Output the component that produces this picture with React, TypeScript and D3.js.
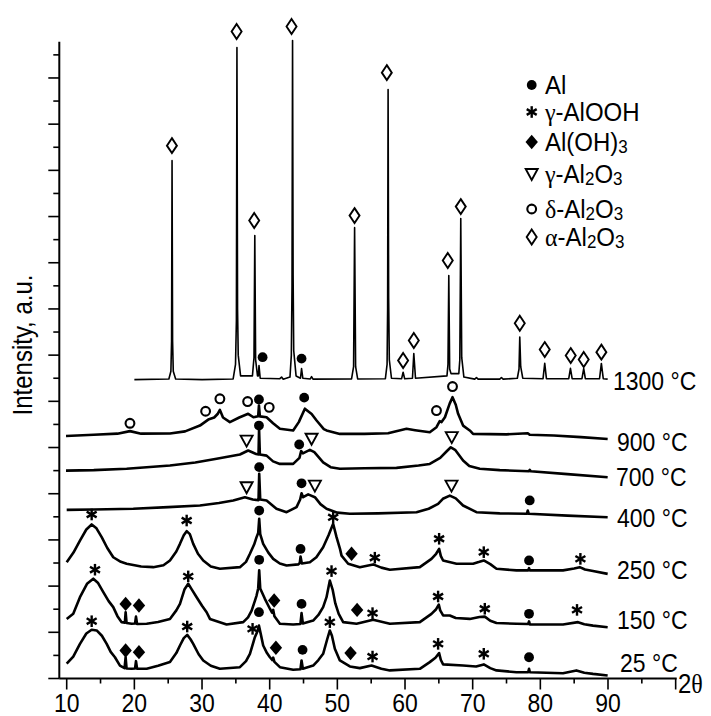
import React from 'react';
import * as d3 from 'd3';

type Pt = [number, number];

// x = 2θ (deg), y = intensity (a.u., traces already stacked)
const T1300: Pt[] = [
  [20.0, 12.94], [25.1, 12.97], [25.4, 13.3], [25.5, 14.6], [25.57, 22.42], [25.65, 14.6], [25.75, 13.3], [26.1, 12.97],
  [30.0, 12.94], [34.6, 12.97], [34.95, 13.6], [35.08, 15.5], [35.16, 27.32], [35.25, 16.0], [35.35, 14.0], [35.7, 13.1],
  [37.45, 13.1], [37.68, 13.9], [37.8, 19.18], [37.92, 13.8], [38.2, 13.1], [38.32, 13.1], [38.42, 13.55], [38.6, 13.0],
  [41.5, 12.98], [41.76, 13.05], [42.0, 12.96], [43.0, 13.05], [43.2, 14.0], [43.3, 17.0], [43.38, 27.62], [43.46, 17.5],
  [43.55, 14.2], [43.9, 13.1], [44.55, 13.0], [44.71, 13.42], [44.9, 13.0], [46.0, 12.97], [46.19, 13.07], [46.4, 12.96],
  [52.1, 12.97], [52.4, 13.5], [52.55, 19.52], [52.7, 13.5], [53.0, 12.97],
  [57.1, 12.98], [57.35, 13.6], [57.43, 16.0], [57.5, 25.5], [57.58, 16.5], [57.68, 13.8], [58.0, 13.0],
  [59.5, 12.98], [59.72, 13.26], [59.95, 12.98], [61.1, 13.0], [61.3, 14.07], [61.55, 13.0],
  [66.2, 13.1], [66.35, 13.6], [66.47, 17.45], [66.6, 13.4], [66.8, 13.2], [67.95, 13.2], [68.1, 13.8], [68.24, 19.91],
  [68.38, 13.9], [68.7, 13.05], [70.3, 12.96], [70.56, 13.03], [70.8, 12.96], [74.0, 12.96], [74.25, 13.03], [74.5, 12.96],
  [76.6, 13.0], [76.85, 13.4], [76.96, 14.78], [77.1, 13.5], [77.4, 13.0], [80.4, 12.98], [80.65, 13.65], [80.9, 12.98],
  [84.2, 12.98], [84.45, 13.43], [84.7, 12.98], [86.15, 12.98], [86.41, 13.42], [86.65, 12.98],
  [88.75, 12.98], [89.02, 13.64], [89.3, 12.98], [89.95, 12.96],
];

const T900: Pt[] = [
  [9.9, 10.5], [14, 10.55], [17.5, 10.6], [19.35, 10.71], [21, 10.6], [25.26, 10.61], [27.5, 10.7], [29.69, 10.95],
  [30.92, 11.21], [31.8, 11.3], [32.3, 11.45], [32.64, 11.63], [33.1, 11.3], [34.12, 11.1], [35.5, 11.3], [36.82, 11.46],
  [37.6, 11.31], [38.3, 11.35], [38.41, 11.82], [38.55, 11.35], [39.54, 11.31], [40.5, 11.05], [41.51, 10.81],
  [43.47, 10.74], [44.3, 11.1], [45.2, 11.68], [46.2, 11.45], [46.93, 11.17], [48.0, 10.8], [48.4, 10.74],
  [50.37, 10.59], [54, 10.59], [57.5, 10.62], [60.22, 10.81], [61.5, 10.75], [63.66, 10.66], [64.65, 10.88],
  [65.13, 11.14], [65.4, 11.1], [65.9, 11.31], [66.6, 11.9], [67.02, 12.18], [67.5, 11.85], [67.85, 11.46],
  [68.58, 10.95], [69.57, 10.74], [70.06, 10.59], [75, 10.57], [78.14, 10.62], [78.43, 10.55], [82, 10.52],
  [86, 10.45], [89.95, 10.37],
];

const T700: Pt[] = [
  [9.9, 9.0], [14, 9.02], [18.86, 9.08], [25.26, 9.22], [29, 9.35], [32.16, 9.51], [35.6, 9.7], [36.82, 9.87],
  [38.0, 9.72], [38.35, 9.7], [38.43, 10.8], [38.55, 9.7], [39.54, 9.65], [40.5, 9.4], [41.51, 9.29], [43.47, 9.29],
  [44.4, 9.55], [44.65, 9.85], [44.9, 9.75], [45.94, 9.9], [46.6, 9.8], [47.9, 9.36], [49.0, 9.15], [50.37, 9.08],
  [54, 9.1], [58.74, 9.12], [62, 9.22], [63.66, 9.29], [65.2, 9.55], [66.2, 9.85], [66.77, 10.01], [67.4, 9.9],
  [68.58, 9.44], [69.5, 9.2], [71.05, 9.08], [74, 9.02], [78.3, 8.97], [78.43, 9.03], [78.6, 8.97], [84, 8.85],
  [89.95, 8.71],
];

const T400: Pt[] = [
  [10, 7.3], [14, 7.32], [19.84, 7.35], [25, 7.42], [29.69, 7.49], [32.5, 7.6], [34.61, 7.71], [36.34, 7.85],
  [37.5, 7.75], [38.35, 7.72], [38.45, 8.86], [38.6, 7.75], [39.54, 7.71], [41.0, 7.35], [42.5, 7.2], [43.97, 7.42],
  [44.5, 7.75], [44.71, 8.02], [44.95, 7.85], [45.69, 7.97], [46.68, 7.85], [47.5, 7.55], [48.4, 7.35], [50, 7.18],
  [51.85, 7.13], [56, 7.15], [61.7, 7.2], [63.5, 7.35], [64.89, 7.56], [65.6, 7.78], [66.62, 7.92], [67.5, 7.8],
  [68.58, 7.49], [70.56, 7.2], [74, 7.15], [78.0, 7.13], [78.14, 7.27], [78.3, 7.13], [84, 7.05], [89.95, 6.98],
];

const T250: Pt[] = [
  [10, 5.03], [11.0, 5.45], [11.96, 5.97], [12.9, 6.45], [13.69, 6.67], [14.4, 6.5], [15.17, 6.12], [16.0, 5.65],
  [16.88, 5.25], [18.0, 5.05], [18.86, 4.97], [21, 4.85], [22.79, 4.82], [24.3, 4.9], [25.26, 5.11], [26.2, 5.5],
  [26.74, 5.83], [27.3, 6.2], [27.73, 6.38], [28.2, 6.25], [28.7, 5.83], [29.4, 5.4], [30.18, 5.11], [31.3, 4.85],
  [32.64, 4.75], [35.6, 4.82], [36.5, 5.05], [37.08, 5.4], [37.7, 5.8], [38.06, 6.12], [38.3, 6.3], [38.45, 6.91],
  [38.6, 6.25], [39.04, 5.83], [39.8, 5.45], [40.52, 5.18], [41.5, 4.98], [42.5, 4.89], [44.21, 4.94], [44.45, 5.0],
  [44.56, 5.28], [44.75, 4.98], [45.94, 5.03], [46.9, 5.25], [47.9, 5.68], [48.7, 6.2], [49.38, 6.7], [49.88, 6.12],
  [50.4, 5.6], [50.62, 5.32], [51.6, 4.97], [53.32, 4.82], [55.29, 4.94], [56.5, 4.8], [57.76, 4.71], [62.19, 4.82],
  [63.91, 5.18], [64.6, 5.4], [65.04, 5.61], [65.3, 5.3], [65.63, 5.11], [67.61, 4.97], [70.06, 4.97], [71.0, 5.05],
  [71.64, 5.11], [72.6, 4.95], [73.52, 4.75], [76.47, 4.68], [78.2, 4.68], [78.33, 4.78], [78.45, 4.68],
  [83.35, 4.68], [85.0, 4.76], [85.82, 4.82], [86.6, 4.72], [87.78, 4.65], [89.95, 4.53],
];

const T150: Pt[] = [
  [10, 2.58], [10.97, 2.8], [11.96, 3.52], [13.0, 4.1], [13.93, 4.32], [14.6, 4.15], [15.41, 3.74], [16.2, 3.35],
  [16.88, 3.09], [17.5, 2.7], [18.12, 2.44], [18.6, 2.42], [18.71, 2.87], [18.85, 2.4], [19.6, 2.37], [20.1, 2.38],
  [20.24, 2.68], [20.4, 2.36], [21.82, 2.37], [23.5, 2.45], [25.26, 2.58], [26.2, 2.95], [26.74, 3.23], [27.4, 3.85],
  [27.96, 4.1], [28.5, 3.85], [29.2, 3.52], [30.0, 3.15], [30.68, 2.87], [31.17, 2.58], [33.63, 2.34], [36.09, 2.44],
  [36.8, 2.65], [37.33, 2.94], [37.8, 3.35], [38.06, 3.59], [38.3, 3.9], [38.45, 4.68], [38.6, 3.9], [39.29, 3.45],
  [40.03, 3.02], [40.35, 2.85], [40.52, 2.97], [40.7, 2.7], [41.51, 2.37], [43.47, 2.34], [44.55, 2.36],
  [44.71, 2.83], [44.9, 2.38], [46.43, 2.51], [47.2, 2.75], [47.9, 3.09], [48.4, 3.52], [48.89, 4.24], [49.3, 3.85],
  [49.7, 3.25], [50.2, 2.8], [50.86, 2.44], [52.84, 2.37], [55.29, 2.54], [57.76, 2.37], [62.19, 2.44],
  [63.91, 2.8], [64.6, 3.0], [64.99, 3.2], [65.2, 2.95], [65.63, 2.73], [66.62, 2.73], [67.5, 2.62], [69.57, 2.58],
  [71.0, 2.66], [71.79, 2.68], [72.6, 2.5], [73.52, 2.4], [76.47, 2.37], [78.2, 2.36], [78.33, 2.47], [78.45, 2.34],
  [83.35, 2.34], [85.57, 2.44], [86.5, 2.35], [87.78, 2.29], [89.95, 2.22],
];

const T25: Pt[] = [
  [10, 0.64], [10.97, 0.95], [11.96, 1.5], [12.9, 1.95], [13.69, 2.11], [14.43, 2.08], [15.2, 1.85], [15.91, 1.5],
  [16.5, 1.15], [17.13, 0.92], [17.87, 0.56], [18.55, 0.45], [18.71, 0.92], [18.85, 0.43], [19.6, 0.42],
  [20.1, 0.43], [20.24, 0.75], [20.4, 0.42], [21.82, 0.42], [23.5, 0.55], [25.26, 0.71], [26.2, 1.1], [26.74, 1.43],
  [27.3, 1.75], [27.81, 1.89], [28.3, 1.7], [28.7, 1.5], [29.5, 1.05], [30.18, 0.78], [31.3, 0.55], [32.64, 0.42],
  [35.6, 0.49], [36.5, 0.75], [37.08, 1.07], [37.81, 1.79], [38.2, 2.05], [38.41, 2.29], [38.7, 1.9], [39.04, 1.43],
  [39.6, 1.1], [40.03, 0.92], [40.4, 0.8], [40.52, 0.9], [40.7, 0.72], [41.51, 0.49], [43.47, 0.38], [44.55, 0.4],
  [44.71, 0.78], [44.9, 0.42], [46.43, 0.56], [47.2, 0.8], [47.9, 1.07], [48.5, 1.7], [48.89, 2.08], [49.2, 1.85],
  [49.63, 1.29], [50.37, 0.78], [51.85, 0.52], [53.32, 0.45], [55.05, 0.56], [56.5, 0.42], [57.76, 0.35],
  [62.19, 0.42], [63.66, 0.71], [64.5, 0.9], [65.04, 1.1], [65.3, 0.8], [65.63, 0.61], [68.58, 0.56], [70.5, 0.52],
  [71.64, 0.61], [72.6, 0.45], [73.52, 0.35], [76.47, 0.27], [78.2, 0.27], [78.33, 0.42], [78.45, 0.27],
  [83.35, 0.23], [85.33, 0.35], [86.5, 0.25], [87.78, 0.2], [89.95, 0.13],
];

const TEMPS = ['1300 °C', '900 °C', '700 °C', '400 °C', '250 °C', '150 °C', '25 °C'];
const SERIES = [T1300, T900, T700, T400, T250, T150, T25];

// phase marks: [2θ, intensity]
const AL_MARKS: Pt[] = [
  [38.95, 13.91], [44.71, 13.85], [38.41, 12.08], [45.1, 12.16], [38.41, 10.95], [44.36, 10.13],
  [38.45, 9.15], [44.71, 8.45], [78.43, 7.71], [38.45, 7.27], [44.56, 5.61], [78.33, 5.11],
  [38.45, 5.14], [44.71, 3.23], [78.33, 2.8], [38.41, 2.87], [44.86, 1.24], [78.33, 0.92],
];
const ALOOH_MARKS: Pt[] = [
  [13.69, 7.1], [27.73, 6.84], [49.38, 6.98], [55.54, 5.23], [65.04, 6.05], [71.64, 5.47], [85.92, 5.18],
  [14.18, 4.71], [27.96, 4.42], [49.14, 4.65], [55.2, 2.83], [64.89, 3.55], [71.79, 3.02], [85.42, 2.97],
  [13.69, 2.48], [27.81, 2.25], [37.47, 2.15], [48.89, 2.44], [55.2, 0.95], [64.89, 1.5], [71.64, 1.07],
];
const ALOH3_MARKS: Pt[] = [
  [52.1, 5.4], [18.71, 3.23], [20.68, 3.16], [40.66, 3.38], [52.92, 2.97],
  [18.71, 1.21], [20.68, 1.14], [40.92, 1.33], [51.95, 1.1],
];
const GAMMA_MARKS: Pt[] = [
  [36.59, 10.3], [46.19, 10.38], [66.91, 10.45], [36.59, 8.28], [46.68, 8.35], [66.87, 8.35],
];
const DELTA_MARKS: Pt[] = [
  [19.35, 11.05], [30.53, 11.57], [32.64, 12.11], [36.74, 11.99], [39.93, 11.74], [64.65, 11.6], [67.02, 12.64],
];
const ALPHA_MARKS: Pt[] = [
  [25.55, 23.07], [35.11, 28.01], [37.71, 19.83], [43.23, 28.23], [52.54, 20.04], [57.31, 26.23],
  [59.72, 13.77], [61.3, 14.63], [66.32, 18.1], [68.24, 20.43], [76.96, 15.38], [80.65, 14.24],
  [84.49, 13.98], [86.41, 13.81], [89.02, 14.13],
];

const X_LABELS = [10, 20, 30, 40, 50, 60, 70, 80, 90];

const FONT = '"Liberation Sans", Arial, sans-serif';
const GREEK = '"Liberation Serif", "Times New Roman", serif';
const STRETCH = 1.15; // text in the source is a bit taller than wide

function Marker({ kind, x, y }: { kind: string; x: number; y: number }) {
  const t = `translate(${x},${y})`;
  if (kind === 'dot') return <circle cx={x} cy={y} r={4.9} fill="#000" />;
  if (kind === 'star')
    return (
      <g transform={t} stroke="#000" strokeWidth={2.4} strokeLinecap="butt">
        <line x1={0} y1={-5.8} x2={0} y2={5.8} />
        <line x1={-5} y1={-2.9} x2={5} y2={2.9} />
        <line x1={-5} y1={2.9} x2={5} y2={-2.9} />
      </g>
    );
  if (kind === 'fdiamond') return <path transform={t} d="M0,-7.2L6.2,0L0,7.2L-6.2,0Z" fill="#000" />;
  if (kind === 'tri')
    return <path transform={t} d="M-6,-5L6,-5L0,6Z" fill="#fff" stroke="#000" strokeWidth={1.9} strokeLinejoin="miter" />;
  if (kind === 'ocircle') return <circle cx={x} cy={y} r={4.4} fill="#fff" stroke="#000" strokeWidth={2.1} />;
  return <path transform={t} d="M0,-7.5L5,0L0,7.5L-5,0Z" fill="#fff" stroke="#000" strokeWidth={1.9} />;
}

function Label({ x, y, size, anchor = 'start', stretch = STRETCH, children }: any) {
  return (
    <text
      transform={`translate(${x},${y}) scale(1,${stretch})`}
      fontSize={size}
      textAnchor={anchor}
      dominantBaseline="central"
    >
      {children}
    </text>
  );
}

export default function App() {
  const width = 711;
  const height = 716;

  const x = d3.scaleLinear().domain([10, 90]).range([66.7, 608]);
  const y = d3.scaleLinear().domain([0, 27.57]).range([678.5, 41.7]);

  const line = d3
    .line<Pt>()
    .x((d) => x(d[0]))
    .y((d) => y(d[1]));

  const x0 = x.invert(59.3);
  const x1 = x.invert(676.7);
  const xTicks = d3.range(10, 101, 5);
  const yTicks = d3.range(0, 28, 1);

  // where each temperature label sits (px)
  const labelPos: [number, number][] = [
    [613, 381], [617, 442], [616, 477], [617, 518], [617, 570], [617, 620], [620, 663],
  ];

  const marks: [string, Pt[]][] = [
    ['alpha', ALPHA_MARKS],
    ['ocircle', DELTA_MARKS],
    ['tri', GAMMA_MARKS],
    ['fdiamond', ALOH3_MARKS],
    ['star', ALOOH_MARKS],
    ['dot', AL_MARKS],
  ];

  const legendY = [85, 112, 142, 174, 209, 237];
  const legendKinds = ['dot', 'star', 'fdiamond', 'tri', 'ocircle', 'alpha'];
  const sub = (s: string) => (
    <tspan baselineShift="-30%" fontSize={17}>{s}</tspan>
  );
  const legendText = [
    <>Al</>,
    <><tspan fontFamily={GREEK}>γ</tspan>-AlOOH</>,
    <>Al(OH){sub('3')}</>,
    <><tspan fontFamily={GREEK}>γ</tspan>-Al{sub('2')}O{sub('3')}</>,
    <><tspan fontFamily={GREEK}>δ</tspan>-Al{sub('2')}O{sub('3')}</>,
    <><tspan fontFamily={GREEK}>α</tspan>-Al{sub('2')}O{sub('3')}</>,
  ];

  return (
    <svg width={width} height={height} style={{ position: 'absolute', left: 0, top: 0, background: '#fff' }} fontFamily={FONT}>
      <rect width={width} height={height} fill="#fff" />

      {/* traces */}
      {SERIES.map((s, i) => (
        <path
          key={i}
          d={line(s) ?? ''}
          fill="none"
          stroke="#000"
          strokeWidth={i === 0 ? 1.6 : 2.6}
          strokeLinejoin="round"
        />
      ))}

      {/* phase markers */}
      {marks.map(([kind, pts]) =>
        pts.map((p, j) => <Marker key={kind + j} kind={kind} x={x(p[0])} y={y(p[1])} />)
      )}

      {/* temperature labels */}
      {TEMPS.map((t, i) => (
        <Label key={t} x={labelPos[i][0]} y={labelPos[i][1]} size={23}>
          {t}
        </Label>
      ))}

      {/* y axis */}
      <line x1={59.3} x2={59.3} y1={41.7} y2={y(0)} stroke="#000" strokeWidth={2} />
      {yTicks.map((k) => (
        <line key={k} x1={59.3 - (k % 2 === 0 ? 11 : 6)} x2={59.3} y1={y(k)} y2={y(k)} stroke="#000" strokeWidth={1.6} />
      ))}
      <text
        transform={`translate(22,345) rotate(-90) scale(1,${STRETCH})`}
        textAnchor="middle"
        dominantBaseline="central"
        fontSize={24}
      >
        Intensity, a.u.
      </text>

      {/* x axis */}
      <line x1={x(x0)} x2={x(x1)} y1={y(0)} y2={y(0)} stroke="#000" strokeWidth={2} />
      {xTicks.map((v) => (
        <line key={v} x1={x(v)} x2={x(v)} y1={y(0)} y2={y(0) + (v % 10 === 0 ? 11 : 5)} stroke="#000" strokeWidth={1.6} />
      ))}
      {X_LABELS.map((v) => (
        <Label key={v} x={x(v)} y={703} size={23} anchor="middle">
          {v}
        </Label>
      ))}
      <Label x={678} y={683} size={24}>
        2<tspan fontFamily={GREEK}>θ</tspan>
      </Label>

      {/* legend */}
      {legendKinds.map((k, i) => (
        <g key={k}>
          <Marker kind={k} x={531.7} y={legendY[i]} />
          <Label x={545} y={legendY[i]} size={24} stretch={1.04}>
            {legendText[i]}
          </Label>
        </g>
      ))}
    </svg>
  );
}
